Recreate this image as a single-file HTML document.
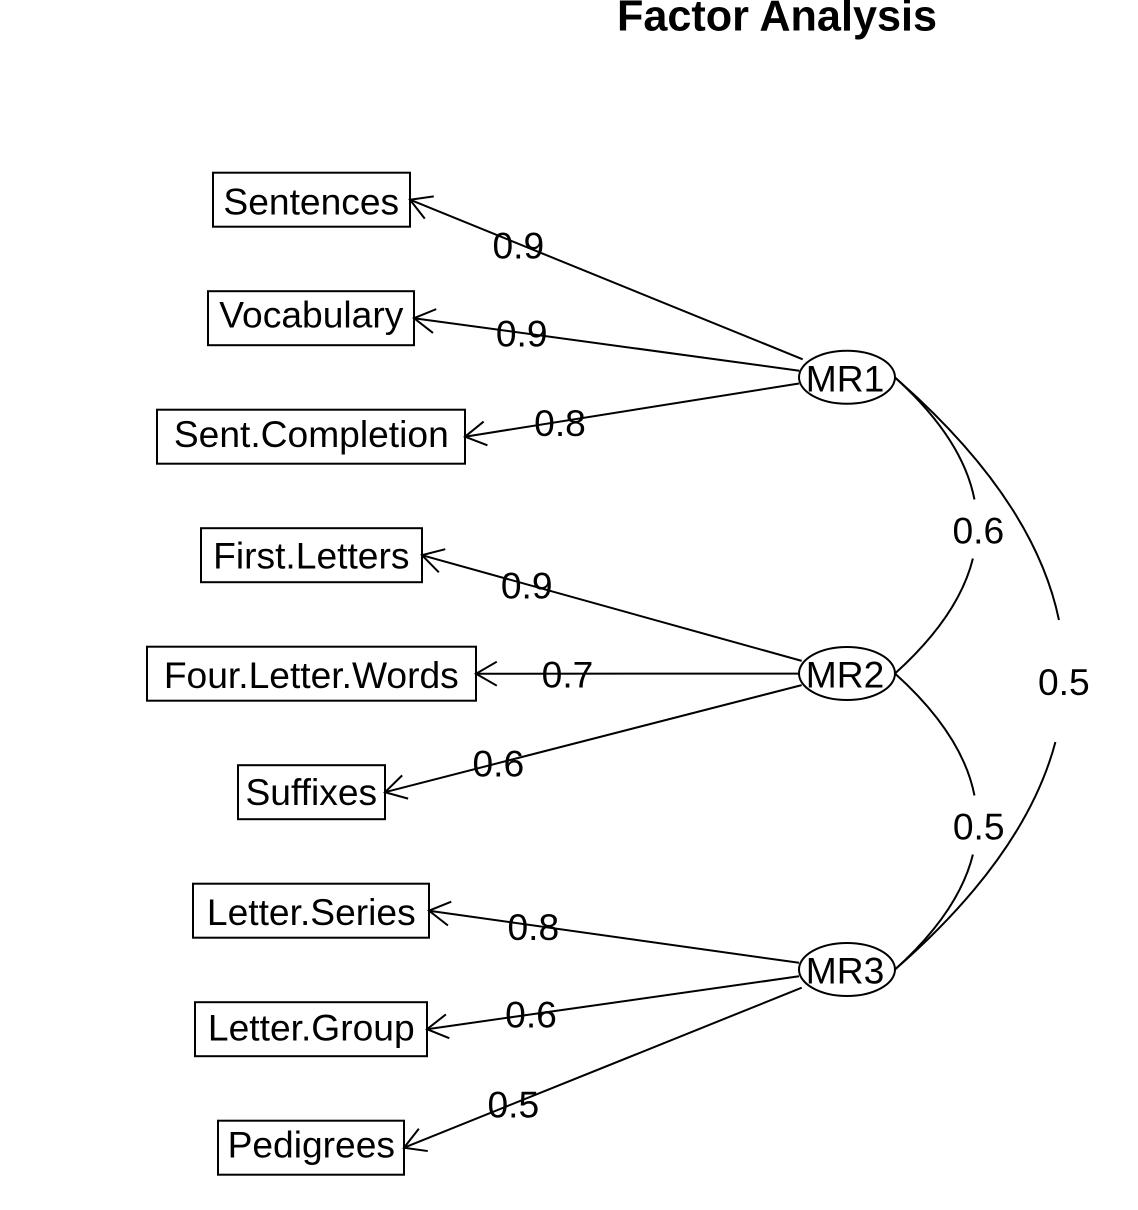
<!DOCTYPE html>
<html>
<head>
<meta charset="utf-8">
<style>
  html, body { margin: 0; padding: 0; background: #ffffff; }
  svg { display: block; }
  text { font-family: "Liberation Sans", Arial, Helvetica, sans-serif; fill: #000; }
</style>
</head>
<body>
<svg width="1138" height="1210" viewBox="0 0 1138 1210" xmlns="http://www.w3.org/2000/svg">
  <defs>
    <marker id="ah" markerUnits="userSpaceOnUse" viewBox="-30 -15 35 30" markerWidth="35" markerHeight="30" refX="0" refY="0" orient="auto" overflow="visible">
      <path d="M-20.8,-12 L0,0 L-20.8,12" fill="none" stroke="#000" stroke-width="2"/>
    </marker>
  </defs>
  <rect x="0" y="0" width="1138" height="1210" fill="#fff"/>

  <!-- Title -->
  <text x="777" y="30.5" font-size="43.2" font-weight="bold" text-anchor="middle">Factor Analysis</text>

  <!-- Variable boxes -->
  <g fill="none" stroke="#000" stroke-width="2">
    <rect x="213" y="172.7" width="197" height="54"/>
    <rect x="208" y="291.2" width="206" height="54"/>
    <rect x="157" y="409.7" width="308" height="54"/>
    <rect x="201" y="528.2" width="221" height="54"/>
    <rect x="147" y="646.7" width="329" height="54"/>
    <rect x="238" y="765.2" width="147" height="54"/>
    <rect x="193" y="883.7" width="236" height="54"/>
    <rect x="195" y="1002.2" width="232" height="54"/>
    <rect x="218" y="1120.7" width="186" height="54"/>
  </g>
  <g font-size="37.2" text-anchor="middle">
    <text x="311.3" y="214.5">Sentences</text>
    <text x="311.3" y="327.5">Vocabulary</text>
    <text x="311.3" y="447">Sent.Completion</text>
    <text x="311.3" y="568.5">First.Letters</text>
    <text x="311.3" y="688">Four.Letter.Words</text>
    <text x="311.3" y="805">Suffixes</text>
    <text x="311.3" y="925">Letter.Series</text>
    <text x="311.3" y="1040.5">Letter.Group</text>
    <text x="311.3" y="1157.3">Pedigrees</text>
  </g>

  <!-- Loading arrows -->
  <g stroke="#000" stroke-width="2" fill="none" marker-end="url(#ah)">
    <line x1="802.7" y1="359.3" x2="410" y2="199.7"/>
    <line x1="799.3" y1="370.7" x2="414" y2="318.2"/>
    <line x1="799" y1="383.5" x2="465" y2="436.7"/>
    <line x1="801.7" y1="660.9" x2="422" y2="555.2"/>
    <line x1="799" y1="673.6" x2="476" y2="673.7"/>
    <line x1="801.7" y1="685.1" x2="385" y2="792.2"/>
    <line x1="799" y1="962.8" x2="429" y2="910.7"/>
    <line x1="799" y1="976.3" x2="427" y2="1029.2"/>
    <line x1="801.7" y1="987.7" x2="404" y2="1147.7"/>
  </g>

  <!-- Loading labels -->
  <g font-size="37.2" text-anchor="middle">
    <text x="518.3" y="258.3">0.9</text>
    <text x="521.7" y="346.5">0.9</text>
    <text x="560" y="436">0.8</text>
    <text x="526.7" y="598.3">0.9</text>
    <text x="567.5" y="687.5">0.7</text>
    <text x="498.3" y="776.7">0.6</text>
    <text x="533.3" y="940">0.8</text>
    <text x="531" y="1027.7">0.6</text>
    <text x="513.3" y="1117.5">0.5</text>
  </g>

  <!-- Factor correlation curves -->
  <g stroke="#000" stroke-width="2" fill="none">
    <!-- MR1 - MR2 -->
    <path d="M895,377.5 Q962.59,438.5 974.47,499.5"/>
    <path d="M972.92,558.5 Q958.71,616 895,673.5"/>
    <!-- MR2 - MR3 -->
    <path d="M895,673.5 Q962.59,734.5 974.47,795.5"/>
    <path d="M972.92,854.5 Q958.71,912 895,969.5"/>
    <!-- MR1 - MR3 -->
    <path d="M895,377.5 Q1033.86,498.75 1058.96,620"/>
    <path d="M1055.42,742 Q1025.27,855.75 895,969.5"/>
  </g>
  <g font-size="37.2" text-anchor="middle">
    <text x="978.3" y="543.3">0.6</text>
    <text x="1063.8" y="695">0.5</text>
    <text x="978.7" y="839.3">0.5</text>
  </g>

  <!-- Factor ellipses -->
  <g fill="#fff" stroke="#000" stroke-width="2">
    <ellipse cx="847" cy="377.3" rx="48" ry="26.5"/>
    <ellipse cx="847" cy="673.5" rx="48" ry="26.5"/>
    <ellipse cx="847" cy="969.5" rx="48" ry="26.5"/>
  </g>
  <g font-size="37.2" text-anchor="middle">
    <text x="845" y="391.3">MR1</text>
    <text x="845" y="687.5">MR2</text>
    <text x="845" y="983.5">MR3</text>
  </g>
</svg>
</body>
</html>
